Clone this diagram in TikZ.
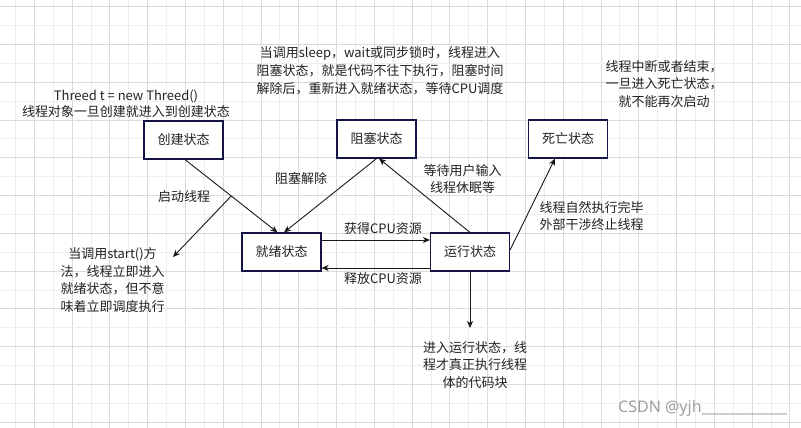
\documentclass[tikz,border=0pt]{standalone}
\usepackage{fontspec}
\newfontfamily\cjk{Noto Sans CJK SC}
\newfontfamily\wmfont{Noto Sans}
\usetikzlibrary{arrows.meta,calc}
\definecolor{boxborder}{RGB}{20,20,70}
\definecolor{txt}{RGB}{34,34,34}
\definecolor{gridl}{RGB}{238,238,238}
\definecolor{gridd}{RGB}{218,218,218}
\definecolor{wmgray}{RGB}{160,160,160}
\begin{document}
\begin{tikzpicture}[x=1pt,y=-1pt,
  state/.style={draw=boxborder, line width=1.1pt, fill=white, minimum width=79pt, minimum height=38pt, inner sep=0pt, font=\cjk\fontsize{13}{16}\selectfont, text=txt},
  lbl/.style={font=\cjk\fontsize{13}{17.8}\selectfont, text=txt, align=center, inner sep=0pt},
  conn/.style={draw=black!90, line width=0.9pt},
  arr/.style={conn, -{Stealth[length=7pt,width=6pt,inset=2pt]}},
  gl/.style={draw=gridl, line width=0.9pt},
  gd/.style={draw=gridd, line width=0.9pt}
]
\useasboundingbox (0,0) rectangle (801,428);
\fill[white] (0,0) rectangle (801,428);
\begin{scope}
\clip (0,0) rectangle (801,428);
\foreach \i in {0,...,21} {
  \draw[gl] ({15.4+37.78*\i},0) -- ++(0,428);
  \draw[gd] ({34.3+37.78*\i},0) -- ++(0,428);
}
\foreach \i in {0,...,11} {
  \draw[gd] (0,{6.7+37.78*\i}) -- ++(801,0);
  \draw[gl] (0,{25.6+37.78*\i}) -- ++(801,0);
}
\end{scope}

\node[state] (create) at (183.5,140) {创建状态};
\node[state] (block) at (376.5,139) {阻塞状态};
\node[state] (dead) at (568,139) {死亡状态};
\node[state] (ready) at (281.5,252) {就绪状态};
\node[state] (run) at (470,252) {运行状态};

\node[lbl] (tnew) at (126,104) {Threed t = new Threed()\\[-2pt]线程对象一旦创建就进入到创建状态};
\node[lbl] (tsleep) at (380,70.7) {当调用sleep，wait或同步锁时，线程进入\\阻塞状态，就是代码不往下执行，阻塞时间\\解除后，重新进入就绪状态，等待CPU调度};
\node[lbl] (tdead) at (664,84) {线程中断或者结束，\\一旦进入死亡状态，\\就不能再次启动};
\node[lbl] (tstart) at (184,196.7) {启动线程};
\node[lbl] (tunblock) at (301,179) {阻塞解除};
\node[lbl] (twait) at (462.5,179) {等待用户输入\\线程休眠等};
\node[lbl] (tend) at (591.7,216) {线程自然执行完毕\\外部干涉终止线程};
\node[lbl] (tget) at (383,228.3) {获得CPU资源};
\node[lbl] (trel) at (383,278.3) {释放CPU资源};
\node[lbl] (tstartm) at (112.5,280) {当调用start()方\\法，线程立即进入\\就绪状态，但不意\\味着立即调度执行};
\node[lbl] (trun) at (475,365) {进入运行状态，线\\程才真正执行线程\\体的代码块};
\node[font=\wmfont\fontsize{16}{16}\selectfont, text=wmgray, anchor=west, inner sep=0pt] (wm) at (618,408) {CSDN @yjh\_\_\_\_\_\_\_\_\_\_\_\_};

\coordinate (startend) at (173,257);
\coordinate (runend) at (470,328);

\draw[arr] ([xshift=1.5pt]create.south) -- coordinate[pos=0.5] (mid) ([xshift=-4pt]ready.north);
\draw[arr] (mid) -- (startend);
\draw[arr] (block.south) -- ([xshift=2.5pt]ready.north);
\draw[arr] (run.north) -- ([xshift=2.5pt]block.south);
\draw[arr] ([yshift=12pt]ready.east) -- ([yshift=12pt]run.west);
\draw[arr] ([yshift=-16pt]run.west) -- ([yshift=-16pt]ready.east);
\draw[arr] ([yshift=2pt]run.east) -- ([xshift=-13pt]dead.south);
\draw[arr] (run.south) -- (runend);
\end{tikzpicture}
\end{document}
